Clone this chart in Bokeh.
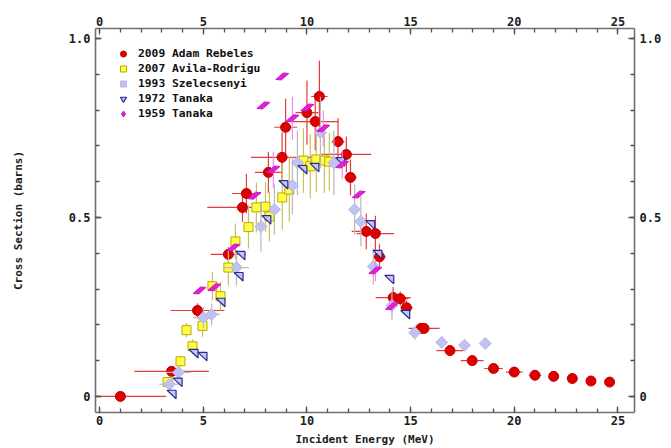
import numpy as np
from bokeh.plotting import figure
from bokeh.models import (LinearAxis, Range1d, SingleIntervalTicker,
                          Legend, LegendItem)
from bokeh.embed import file_html
from bokeh.resources import INLINE

# ---------------- data ----------------
red_x = [1.0, 3.47, 4.72, 6.21, 6.89, 7.08, 8.14, 8.8, 8.97, 10.0, 10.4, 10.6, 11.5, 11.9, 12.1,
         12.86, 13.3, 13.5, 14.16, 14.5, 14.8, 15.5, 15.65, 16.9, 17.97, 19.0, 20.0, 21.0, 21.9,
         22.8, 23.7, 24.6]
red_y = [0.0, 0.07, 0.24, 0.397, 0.528, 0.567, 0.626, 0.668, 0.752, 0.793, 0.768, 0.838, 0.712,
         0.676, 0.612, 0.461, 0.455, 0.39, 0.276, 0.273, 0.248, 0.19, 0.19, 0.128, 0.1, 0.078,
         0.068, 0.059, 0.056, 0.05, 0.043, 0.04]
red_xerr = [2.2, 1.8, 1.3, 0.85, 1.7, 0.7, 0.65, 1.5, 0.55, 0.55, 1.1, 0.4, 0.3, 1.2, 0.3, 0.7,
            0.9, 0.3, 0.85, 0.4, 0.3, 0.3, 0.75, 0.65, 0.55, 0.45, 0.4, 0.3, 0.25, 0.2, 0.2, 0.2]
red_yerr = [0.0, 0.01, 0.02, 0.02, 0.04, 0.055, 0.057, 0.07, 0.08, 0.09, 0.08, 0.1, 0.065, 0.05,
            0.05, 0.05, 0.05, 0.035, 0.03, 0.02, 0.02, 0.015, 0.015, 0.01, 0.008, 0.006, 0.005,
            0.005, 0.004, 0.004, 0.004, 0.004]

yel_x = [3.28, 3.9, 4.19, 4.48, 4.96, 5.44, 5.83, 6.21, 6.55, 7.18, 7.56, 8.0, 8.19, 8.81, 9.15,
         9.83, 10.16, 10.45, 10.84, 11.08]
yel_y = [0.04, 0.098, 0.185, 0.14, 0.197, 0.308, 0.28, 0.36, 0.433, 0.473, 0.528, 0.53, 0.503,
         0.556, 0.578, 0.659, 0.643, 0.662, 0.659, 0.656]
yel_xerr = [0.15] * 20
yel_yerr = [0.01, 0.015, 0.02, 0.02, 0.03, 0.04, 0.04, 0.05, 0.05, 0.06, 0.07, 0.07, 0.07, 0.09,
            0.09, 0.09, 0.09, 0.09, 0.09, 0.08]

dia_x = [3.37, 3.8, 5.0, 5.4, 6.6, 7.78, 8.43, 9.3, 9.54, 10.65, 11.3, 12.3, 12.6, 13.2, 14.1,
         15.2, 16.5, 17.6, 18.6]
dia_y = [0.034, 0.067, 0.22, 0.229, 0.36, 0.475, 0.522, 0.589, 0.653, 0.737, 0.653, 0.522, 0.489,
         0.363, 0.254, 0.178, 0.151, 0.143, 0.148]
dia_xerr = [0.5, 0.6, 0.5, 0.4, 0.6, 0.3, 0.3, 0.3, 0.3, 0.3, 0.3, 0.2, 0.2, 0.2, 0.2, 0.2, 0.1,
            0.1, 0.1]
dia_yerr = [0.01, 0.01, 0.03, 0.03, 0.05, 0.07, 0.07, 0.08, 0.09, 0.1, 0.09, 0.07, 0.07, 0.05,
            0.04, 0.02, 0.01, 0.01, 0.01]

tri_x = [3.47, 3.76, 4.53, 4.96, 5.83, 6.7, 6.79, 8.04, 8.86, 9.78, 10.36, 11.6, 13.05, 13.4,
         13.97, 14.74]
tri_y = [0.006, 0.04, 0.12, 0.112, 0.263, 0.335, 0.394, 0.494, 0.592, 0.634, 0.64, 0.656, 0.48,
         0.397, 0.327, 0.229]

mag_x = [4.82, 5.54, 6.45, 7.47, 7.9, 8.38, 8.81, 9.3, 10.02, 10.79, 11.7, 12.5, 13.3, 14.1]
mag_y = [0.296, 0.305, 0.416, 0.561, 0.813, 0.634, 0.894, 0.777, 0.807, 0.749, 0.648, 0.564,
         0.352, 0.252]
mag_yerr = [0.0, 0.0, 0.0, 0.0, 0.0, 0.05, 0.0, 0.06, 0.0, 0.05, 0.04, 0.0, 0.03, 0.02]

series_names = ["2009 Adam Rebeles", "2007 Avila-Rodrigu", "1993 Szelecsenyi",
                "1972 Tanaka", "1959 Tanaka"]

x_label = "Incident Energy (MeV)"
y_label = "Cross Section (barns)"

# ---------------- figure ----------------
X0, X1 = -0.2, 25.8
Y0, Y1 = -0.045, 1.028
FW, FH = 539, 384
FONT = "DejaVu Sans Mono"

p = figure(frame_width=FW, frame_height=FH, x_range=Range1d(X0, X1), y_range=Range1d(Y0, Y1),
           output_backend="svg", toolbar_location=None,
           min_border_left=95, min_border_right=26, min_border_top=28, min_border_bottom=27)
p.grid.visible = False
p.outline_line_color = None
p.background_fill_color = "white"

xt = SingleIntervalTicker(interval=5, num_minor_ticks=5)
yt = SingleIntervalTicker(interval=0.5, num_minor_ticks=5)
p.xaxis.ticker = xt
p.yaxis.ticker = yt
p.add_layout(LinearAxis(ticker=xt), "above")
p.add_layout(LinearAxis(ticker=yt), "right")

for ax in p.axis:
    ax.axis_line_color = "#707070"
    ax.axis_line_width = 1.6
    ax.major_tick_line_color = "#505050"
    ax.minor_tick_line_color = "#505050"
    ax.major_tick_line_width = 1.3
    ax.minor_tick_line_width = 1.3
    ax.major_tick_in = 6
    ax.major_tick_out = 0
    ax.minor_tick_in = 4
    ax.minor_tick_out = 0
    ax.major_label_text_font = FONT
    ax.major_label_text_font_style = "bold"
    ax.major_label_text_font_size = "12px"
    ax.major_label_text_color = "#202020"

for ax in p.yaxis:
    ax.major_label_overrides = {0: "0", 0.5: "0.5", 1: "1.0"}
    ax.major_label_standoff = 5
for ax in p.xaxis:
    ax.major_label_standoff = 3

p.below[0].axis_label = x_label
p.left[0].axis_label = y_label
for ax in (p.below[0], p.left[0]):
    ax.axis_label_text_font = FONT
    ax.axis_label_text_font_style = "bold"
    ax.axis_label_text_font_size = "11px"
    ax.axis_label_text_color = "#202020"
p.below[0].axis_label_standoff = 5
p.left[0].axis_label_standoff = 41

# pixel -> data scale (for shaped markers)
sx = (X1 - X0) / FW
sy = (Y1 - Y0) / FH


def errbars(x, y, xe, ye, color, width=1.2):
    x = np.asarray(x, float); y = np.asarray(y, float)
    xe = np.asarray(xe, float); ye = np.asarray(ye, float)
    p.segment(x0=x - xe, y0=y, x1=x + xe, y1=y, line_color=color, line_width=width)
    p.segment(x0=x, y0=y - ye, x1=x, y1=y + ye, line_color=color, line_width=width)


# 2009 Adam Rebeles
errbars(red_x, red_y, red_xerr, red_yerr, "#e83a3a")
r_red = p.scatter(red_x, red_y, marker="circle", size=10, fill_color="#dd0000",
                  line_color="#c00000", line_width=1)

# 2007 Avila-Rodrigu
errbars(yel_x, yel_y, yel_xerr, yel_yerr, "#c8c060")
r_yel = p.scatter(yel_x, yel_y, marker="square", size=9, fill_color="#ffff44",
                  line_color="#b8a800", line_width=1)

# 1993 Szelecsenyi
errbars(dia_x, dia_y, dia_xerr, dia_yerr, "#b8b8b8")
r_dia = p.scatter(dia_x, dia_y, marker="square", angle=np.pi / 4, size=8.5, fill_color="#c2c2f0",
                  line_color="#b8b8ec", line_width=1)

# legend glyphs for the shaped markers: muted renderers are invisible in the plot
r_tri_leg = p.scatter(tri_x, tri_y, marker="inverted_triangle", angle=0.3, size=10,
                      fill_color="#c4c4f8", line_color="#2a2a90", line_width=1.2,
                      muted_alpha=0.0)
r_tri_leg.muted = True
r_mag_leg = p.scatter(mag_x, mag_y, marker="diamond", angle=-1.0, size=12,
                      fill_color="#e020d8", line_color="#c818c8", muted_alpha=0.0)
r_mag_leg.muted = True

# 1972 Tanaka (right triangles)
tri_shape = [(-4.5, 4.0), (4.5, 4.0), (4.5, -4.5)]
tri_xs = [[x + dx * sx for dx, dy in tri_shape] for x in tri_x]
tri_ys = [[y + dy * sy for dx, dy in tri_shape] for y in tri_y]
p.patches(tri_xs, tri_ys, fill_color="#c4c4f8", line_color="#2a2a90", line_width=1.2)

# 1959 Tanaka (parallelograms)
errbars(mag_x, mag_y, [0.0] * len(mag_x), mag_yerr, "#f08af0")
par_shape = [(-6.5, -3.0), (-1.0, -3.5), (6.5, 3.0), (1.0, 3.5)]
mag_xs = [[x + dx * sx for dx, dy in par_shape] for x in mag_x]
mag_ys = [[y + dy * sy for dx, dy in par_shape] for y in mag_y]
p.patches(mag_xs, mag_ys, fill_color="#e020d8", line_color="#c818c8", line_width=1)

legend = Legend(items=[LegendItem(label=series_names[0], renderers=[r_red]),
                       LegendItem(label=series_names[1], renderers=[r_yel]),
                       LegendItem(label=series_names[2], renderers=[r_dia]),
                       LegendItem(label=series_names[3], renderers=[r_tri_leg]),
                       LegendItem(label=series_names[4], renderers=[r_mag_leg])],
                location="top_left", margin=18, padding=7, spacing=0,
                label_height=15, glyph_height=15, glyph_width=20, label_standoff=5,
                border_line_color=None, background_fill_alpha=0,
                label_text_font=FONT, label_text_font_style="bold",
                label_text_font_size="11.3px", label_text_color="#101010",
                click_policy="none")
p.add_layout(legend)

open("out.html", "w").write(file_html(p, INLINE))
